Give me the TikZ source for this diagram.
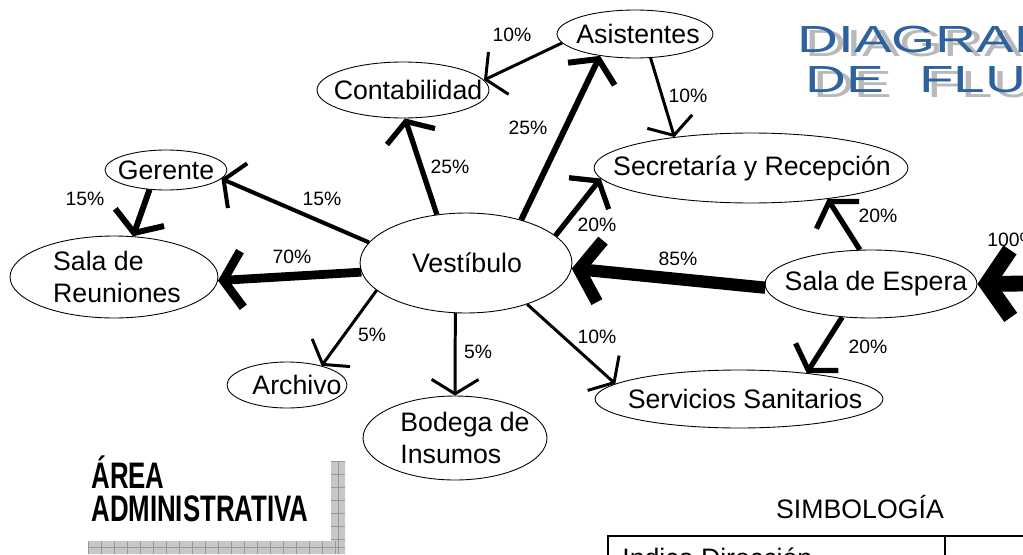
\documentclass[tikz,border=0pt]{standalone}
\usepackage{fontspec}
\setmainfont{Liberation Sans}
\newfontfamily\widefont[FakeStretch=1.5]{Liberation Sans}
\newfontfamily\narrowbold[FakeStretch=0.7]{Liberation Sans Bold}
\usetikzlibrary{shapes.geometric,arrows.meta}
\definecolor{titleblue}{RGB}{46,98,158}
\definecolor{titleshade}{RGB}{185,185,185}
\definecolor{gridgray}{RGB}{200,200,200}
\tikzset{
  room/.style={ellipse, draw, line width=0.5pt, inner sep=0pt},
  roomtext/.style={font=\fontsize{15.2}{18.2}\selectfont, align=left, inner sep=0pt},
  pct/.style={font=\fontsize{11}{13}\selectfont, inner sep=0pt},
  flow/.style={line width=#1, -{Straight Barb[length=7pt 0.7,width=24pt 1.6]}},
  titletext/.style={font=\widefont\fontsize{21.5}{24}\selectfont, anchor=base west, inner sep=0pt},
  areatext/.style={font=\narrowbold\fontsize{21}{24}\selectfont, anchor=base west, inner sep=0pt},
  gridline/.style={draw=black!40, line width=0.3pt}
}
\newcommand{\room}[7]{%
  \node[room, minimum width=#4*0.04cm, minimum height=#5*0.04cm] (#1) at (#2,#3) {};
  \node[roomtext, xshift=#6*0.02cm] (#1-t) at (#1) {#7};}

\begin{document}
\begin{tikzpicture}[x=0.02cm, y=-0.02cm]
  \clip (0,0) rectangle (1023,554);
  \fill[white] (0,0) rectangle (1023,554);

  \node[titletext, text=titleshade] (tit1s) at (805,57) {DIAGRAMA};
  \node[titletext, text=titleshade] (tit2s) at (813,97) {DE\hspace{20pt}FLUJO};
  \node[titletext, text=titleblue] (tit1) at (797,52) {DIAGRAMA};
  \node[titletext, text=titleblue] (tit2) at (805,92) {DE\hspace{20pt}FLUJO};

  \room{asist}{635}{34}{78}{24}{3}{Asistentes}
  \room{conta}{403}{90}{86}{28}{5}{Contabilidad}
  \room{gerente}{166}{170}{61}{20}{0}{Gerente}
  \room{reun}{114}{277}{104}{41}{3}{Sala de\\Reuniones}
  \room{vest}{466}{263}{106}{50}{1}{Vestíbulo}
  \room{secre}{751}{168}{157}{35}{1}{Secretaría y Recepción}
  \room{espera}{871}{284}{106}{34}{5}{Sala de Espera}
  \room{archivo}{287}{385}{60}{23}{10}{Archivo}
  \room{bodega}{455}{438}{92}{42}{10}{Bodega de\\Insumos}
  \room{sanit}{739}{399}{144}{29}{6}{Servicios Sanitarios}
  \coordinate (entrada) at (1075,283);

  \draw[flow=1.7pt] (asist.187) -- (conta.7);
  \draw[flow=1.7pt] (asist.303) -- (secre.158);
  \draw[flow=3.4pt] (vest.38) -- (asist.212);
  \draw[flow=3pt] (vest.121) -- (conta.274);
  \draw[flow=2.3pt] (vest.168) -- (gerente.351);
  \draw[flow=3.4pt] (gerente.230) -- (reun.65);
  \draw[flow=5pt] (vest.185) -- (reun.358);
  \draw[flow=3pt] (vest.17) -- (secre.184);
  \draw[flow=7pt] (espera.182) -- (vest.357);
  \draw[flow=3pt] (espera.108) -- (secre.338);
  \draw[flow=3pt] (espera.229) -- (sanit.21);
  \draw[flow=9pt] (entrada) -- (espera.0);
  \draw[flow=1.7pt] (vest.197) -- (archivo.29);
  \draw[flow=1.7pt] (vest.258) -- (bodega.90);
  \draw[flow=1.7pt] (vest.326) -- (sanit.173);

  \node[pct] (p1) at (512,35) {10\%};
  \node[pct] (p2) at (688,96) {10\%};
  \node[pct] (p3) at (528,128) {25\%};
  \node[pct] (p4) at (450,167) {25\%};
  \node[pct] (p5) at (322,199) {15\%};
  \node[pct] (p6) at (85,199) {15\%};
  \node[pct] (p7) at (292,257) {70\%};
  \node[pct] (p8) at (597,225) {20\%};
  \node[pct] (p9) at (678,259) {85\%};
  \node[pct] (p10) at (878,216) {20\%};
  \node[pct] (p11) at (868,347) {20\%};
  \node[pct, anchor=west] (p12) at (987,240) {100\%};
  \node[pct] (p13) at (372,335) {5\%};
  \node[pct] (p14) at (478,352) {5\%};
  \node[pct] (p15) at (597,337) {10\%};

  \fill[gridgray] (331,461) rectangle (345,554) (88,541) rectangle (345,554);
  \foreach \gx in {88,101,...,345} \draw[gridline] (\gx,541) -- (\gx,554);
  \foreach \gy in {461,474,...,541} \draw[gridline] (331,\gy) -- (345,\gy);
  \draw[gridline] (88,547) -- (345,547);
  \draw[gridline] (338,461) -- (338,554);
  \node[areatext] (area1) at (91,488) {ÁREA};
  \node[areatext] (area2) at (91,521) {ADMINISTRATIVA};

  \node[roomtext] (simb) at (860,507) {SIMBOLOGÍA};
  \draw[line width=0.8pt] (608,575) -- (608,536) -- (1023,536);
  \draw[line width=0.8pt] (945,536) -- (945,575);
  \node[roomtext, anchor=base west] (indica) at (622,567) {Indica Dirección};
\end{tikzpicture}
\end{document}
